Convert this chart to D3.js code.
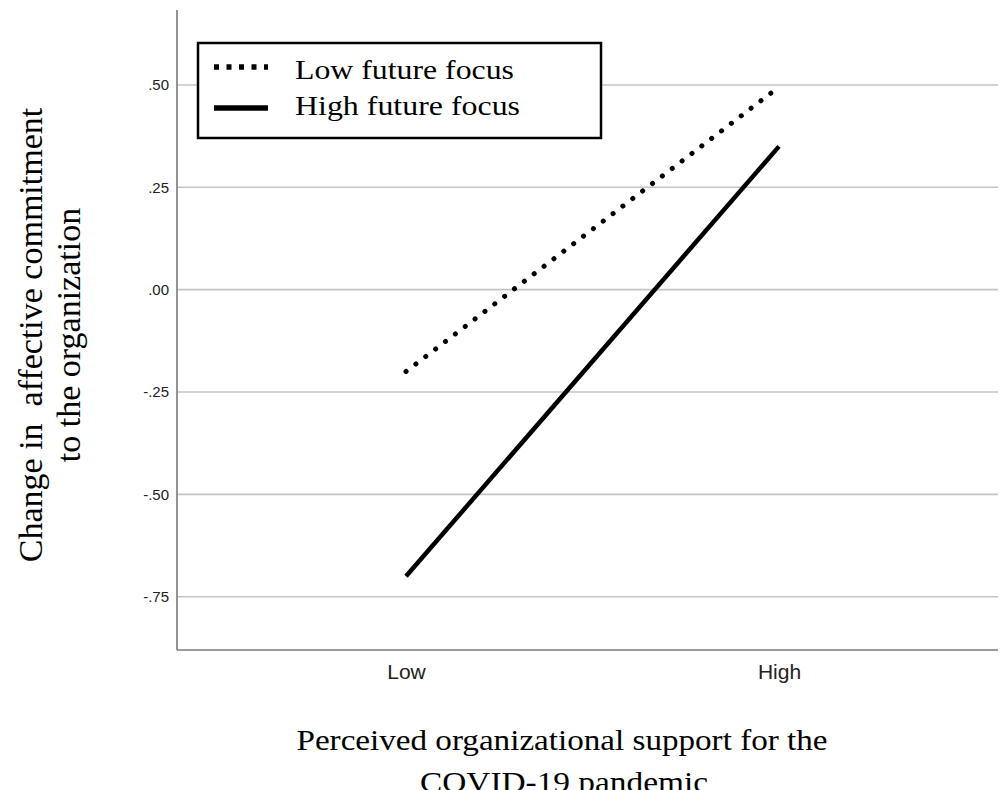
<!DOCTYPE html>
<html>
<head>
<meta charset="utf-8">
<script src="https://cdn.jsdelivr.net/npm/d3@7"></script>
<style>
  html, body { margin: 0; padding: 0; background: #fff; overflow: hidden; }
  svg { display: block; }
</style>
</head>
<body>
<svg id="chart" width="1002" height="790"></svg>
<script>
// Simple-slopes plot: change in affective commitment by perceived support
const categories = ["Low", "High"];
const seriesNames = ["Low future focus", "High future focus"];
const lowFutureFocus = [-0.20, 0.495];
const highFutureFocus = [-0.70, 0.35];
const yTicks = [-0.75, -0.50, -0.25, 0.00, 0.25, 0.50];
const yTickLabels = ["-.75", "-.50", "-.25", ".00", ".25", ".50"];

const serif = "Liberation Serif, Times New Roman, serif";
const sans = "Liberation Sans, Arial, sans-serif";

const svg = d3.select("#chart");
const plot = { left: 177, right: 998, top: 10, bottom: 650 };

const y = d3.scaleLinear()
  .domain([-0.88, 0.683])
  .range([plot.bottom, plot.top]);

const x = d3.scalePoint()
  .domain(categories)
  .range([406, 779]);

// horizontal gridlines
svg.append("g")
  .selectAll("line")
  .data(yTicks)
  .join("line")
  .attr("x1", plot.left)
  .attr("x2", plot.right)
  .attr("y1", d => y(d))
  .attr("y2", d => y(d))
  .attr("stroke", "#c4c4c4")
  .attr("stroke-width", 1.6);

// y axis
const yAxis = svg.append("g")
  .attr("transform", `translate(${plot.left},0)`)
  .call(d3.axisLeft(y).tickValues(yTicks)
    .tickFormat((d, i) => yTickLabels[i]).tickSize(0).tickPadding(8));
yAxis.select(".domain").remove();
yAxis.attr("font-size", null).attr("font-family", null);
yAxis.selectAll("text")
  .style("font-family", sans)
  .style("font-size", "15px")
  .attr("fill", "#222");

// x axis
const xAxis = svg.append("g")
  .attr("transform", `translate(0,${plot.bottom})`)
  .call(d3.axisBottom(x).tickSize(0).tickPadding(14));
xAxis.select(".domain").remove();
xAxis.attr("font-size", null).attr("font-family", null);
xAxis.selectAll("text")
  .style("font-family", sans)
  .style("font-size", "21px")
  .attr("fill", "#222");

// axis frame lines
svg.append("line")
  .attr("x1", plot.left).attr("x2", plot.left)
  .attr("y1", plot.top).attr("y2", plot.bottom)
  .attr("stroke", "#7a7a7a").attr("stroke-width", 1.6);
svg.append("line")
  .attr("x1", plot.left).attr("x2", plot.right)
  .attr("y1", plot.bottom).attr("y2", plot.bottom)
  .attr("stroke", "#7a7a7a").attr("stroke-width", 1.6);

// series lines
const line = d3.line()
  .x((d, i) => x(categories[i]))
  .y(d => y(d));

svg.append("path")
  .datum(lowFutureFocus)
  .attr("d", line)
  .attr("fill", "none")
  .attr("stroke", "#000")
  .attr("stroke-width", 5)
  .attr("stroke-dasharray", "0.1 12.3")
  .attr("stroke-linecap", "round");

svg.append("path")
  .datum(highFutureFocus)
  .attr("d", line)
  .attr("fill", "none")
  .attr("stroke", "#000")
  .attr("stroke-width", 4.5);

// legend
const legend = svg.append("g");
legend.append("rect")
  .attr("x", 198).attr("y", 43)
  .attr("width", 403).attr("height", 95)
  .attr("fill", "#fff")
  .attr("stroke", "#000")
  .attr("stroke-width", 2.5);

const legendRows = [
  { name: seriesNames[0], dash: "5 7.5", cy: 67, base: 79, len: 219 },
  { name: seriesNames[1], dash: null, cy: 108, base: 115, len: 225 }
];
legendRows.forEach(r => {
  legend.append("line")
    .attr("x1", 214).attr("x2", 268)
    .attr("y1", r.cy).attr("y2", r.cy)
    .attr("stroke", "#000")
    .attr("stroke-width", 5.5)
    .attr("stroke-dasharray", r.dash);
  legend.append("text")
    .attr("x", 295).attr("y", r.base)
    .attr("font-family", serif)
    .attr("font-size", 27)
    .attr("textLength", r.len)
    .attr("lengthAdjust", "spacingAndGlyphs")
    .attr("fill", "#000")
    .text(r.name);
});

// y axis title
const yTitle = svg.append("text")
  .attr("transform", "translate(0,335) rotate(-90)")
  .attr("text-anchor", "middle")
  .attr("font-family", serif)
  .attr("font-size", 34)
  .attr("fill", "#000")
  .style("white-space", "pre");
yTitle.append("tspan").attr("x", 0).attr("y", 42).text("Change in  affective commitment");
yTitle.append("tspan").attr("x", 0).attr("y", 80).text("to the organization");

// x axis title
const xTitle = svg.append("text")
  .attr("text-anchor", "middle")
  .attr("font-family", serif)
  .attr("font-size", 30)
  .attr("fill", "#000");
xTitle.append("tspan").attr("x", 562).attr("y", 750)
  .attr("textLength", 531).attr("lengthAdjust", "spacingAndGlyphs")
  .text("Perceived organizational support for the");
xTitle.append("tspan").attr("x", 564).attr("y", 792)
  .attr("textLength", 288).attr("lengthAdjust", "spacingAndGlyphs")
  .text("COVID-19 pandemic");
</script>
</body>
</html>
